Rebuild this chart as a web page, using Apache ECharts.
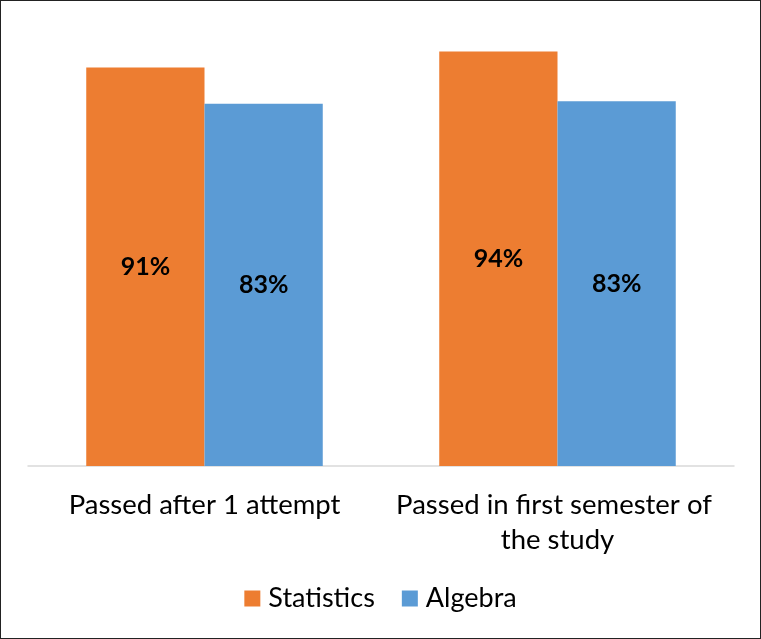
<!DOCTYPE html>
<html><head><meta charset="utf-8">
<script src="https://cdn.jsdelivr.net/npm/echarts@6/dist/echarts.min.js"></script>
<style>
html,body{margin:0;padding:0;background:#fff;}
#c{width:761px;height:639px;box-sizing:border-box;border:1.5px solid #222;}
</style></head>
<body><div id="c"></div>
<script>
const categories = ['Passed after 1 attempt', 'Passed in first semester of the study'];
const statistics = [90.8, 94.4];
const algebra = [82.5, 83.1];
const statisticsLabels = ['91%', '94%'];
const algebraLabels = ['83%', '83%'];

const chart = echarts.init(document.getElementById('c'));
const font = 'Lato, "Open Sans", sans-serif';
chart.setOption({
  animation: false,
  grid: {left: 27, right: 26, top: 26, bottom: 172, containLabel: false},
  legend: {
    top: 579, left: 'center', itemWidth: 16, itemHeight: 16, itemGap: 27,
    icon: 'rect',
    textStyle: {fontFamily: font, fontSize: 27, color: '#000', padding: [0, 0, 0, 3]}
  },
  xAxis: {
    type: 'category', data: categories,
    axisLine: {lineStyle: {color: '#d9d9d9', width: 1.5}},
    axisTick: {show: false},
    axisLabel: {fontFamily: font, fontSize: 27.5, color: '#000', margin: 22, width: 345, overflow: 'break', lineHeight: 35, interval: 0}
  },
  yAxis: {type: 'value', min: 0, max: 100, show: false, splitLine: {show: false}},
  series: [
    {name: 'Statistics', type: 'bar', data: statistics, barGap: '0%', barCategoryGap: '33%',
     itemStyle: {color: '#ED7D31'},
     label: {show: true, position: 'inside', fontFamily: font, fontSize: 25, fontWeight: 'bold', color: '#000',
       formatter: p => statisticsLabels[p.dataIndex]}},
    {name: 'Algebra', type: 'bar', data: algebra,
     itemStyle: {color: '#5B9BD5'},
     label: {show: true, position: 'inside', fontFamily: font, fontSize: 25, fontWeight: 'bold', color: '#000',
       formatter: p => algebraLabels[p.dataIndex]}}
  ]
});
</script></body></html>
